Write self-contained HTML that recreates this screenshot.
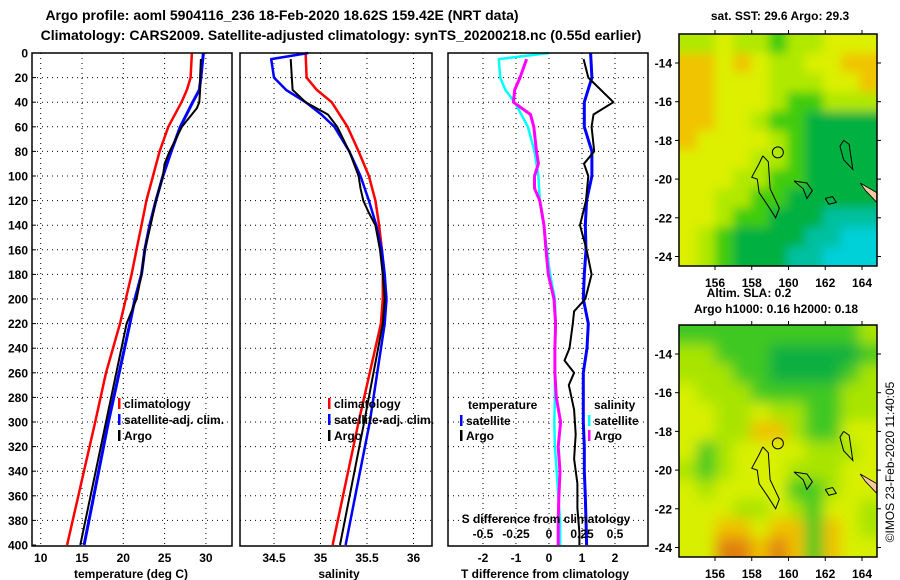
<!DOCTYPE html>
<html><head><meta charset="utf-8">
<style>
body{margin:0;background:#fff;}
svg{display:block;font-family:"Liberation Sans",sans-serif;font-weight:bold;}
</style></head>
<body>
<svg id="c" width="900" height="580" viewBox="0 0 900 580">
<defs>
<filter id="blur" x="-5%" y="-5%" width="110%" height="110%"><feGaussianBlur stdDeviation="5"/></filter>
<filter id="blur2" x="-5%" y="-5%" width="110%" height="110%"><feGaussianBlur stdDeviation="7"/></filter>
<clipPath id="clip1"><rect x="679" y="34" width="198" height="232"/></clipPath>
<clipPath id="clip2"><rect x="679" y="325" width="198" height="232"/></clipPath>
</defs>
<text x="282" y="20" font-size="14" text-anchor="middle">Argo profile: aoml 5904116_236 18-Feb-2020 18.62S 159.42E (NRT data)</text>
<text x="341" y="40" font-size="14" text-anchor="middle">Climatology: CARS2009. Satellite-adjusted climatology: synTS_20200218.nc (0.55d earlier)</text>
<text x="780" y="20" font-size="12" text-anchor="middle">sat. SST: 29.6 Argo: 29.3</text>
<text x="749" y="297" font-size="12" text-anchor="middle">Altim. SLA: 0.2</text>
<text x="776" y="313" font-size="12" text-anchor="middle">Argo h1000: 0.16 h2000: 0.18</text>
<text transform="translate(894,462) rotate(-90)" font-size="12" font-weight="normal" text-anchor="middle">©IMOS 23-Feb-2020 11:40:05</text>
<g id="layer"></g>
</svg>
<script>
// ---------- profile data ----------
const depthTicks=[0,20,40,60,80,100,120,140,160,180,200,220,240,260,280,300,320,340,360,380,400];
const tClimDepth=[0,20,30,40,60,80,100,120,140,160,180,200,220,260,300,400];
const tClim=[28.3,28.15,27.7,27.05,25.45,24.4,23.6,22.8,22.2,21.6,21.0,20.3,19.6,17.9,16.6,13.2];
const tSatDepth=[0,20,30,40,60,80,100,120,140,160,180,200,220,300,400];
const tSat=[29.7,29.4,29.2,28.4,26.9,25.8,24.8,23.95,23.2,22.6,22.2,21.4,20.8,18.2,15.25];
const tArgoDepth=[5,20,30,40,45,60,80,90,100,120,140,160,180,200,220,300,400];
const tArgo=[29.4,29.3,29.3,29.2,28.9,27.1,25.6,25.0,24.8,23.95,23.3,22.6,22.2,21.6,20.4,17.9,14.8];
const sClimDepth=[0,20,30,40,60,80,100,120,140,160,180,200,220,300,400];
const sClim=[34.84,34.85,34.96,35.12,35.29,35.41,35.52,35.59,35.63,35.66,35.67,35.67,35.65,35.41,35.13];
const sSatDepth=[0,5,20,30,40,50,60,80,100,120,140,160,180,200,220,300,400];
const sSat=[34.87,34.47,34.5,34.63,34.84,35.01,35.15,35.31,35.43,35.52,35.6,35.66,35.69,35.71,35.69,35.53,35.27];
const sArgoDepth=[5,30,40,50,60,80,100,110,120,130,140,160,180,200,220,300,400];
const sArgo=[34.68,34.7,34.84,35.08,35.18,35.31,35.41,35.43,35.46,35.52,35.59,35.64,35.67,35.69,35.67,35.47,35.21];
const dDepth=[0,20,40,60,80,100,120,140,160,180,200,220,240,260,280,300,320,340,360,380,400];
const dTSat=[1.26,1.3,1.07,1.07,1.3,1.3,1.14,1.1,1.12,1.07,1.04,1.19,1.15,1.04,1.04,1.04,1.07,1.07,1.1,1.12,1.14];
const dTArgoDepth=[5,20,40,50,60,80,90,100,120,140,160,180,200,210,220,240,250,260,270,290,310,330,350,370,390,400];
const dTArgo=[1.05,1.19,1.95,1.35,1.29,1.37,1.06,1.19,1.12,0.94,1.14,1.29,1.1,0.76,0.72,0.62,0.47,0.76,0.6,0.76,0.81,0.76,0.86,0.86,0.92,0.92];
const dSSatDepth=[0,5,20,30,40,60,80,100,120,140,160,180,200,220,240,260,280,300,320,340,360,380,400];
const dSSat=[0.0,-0.38,-0.37,-0.33,-0.26,-0.16,-0.11,-0.08,-0.07,-0.04,-0.017,0.008,0.045,0.05,0.045,0.045,0.045,0.04,0.045,0.058,0.07,0.083,0.085];
const dSArgoDepth=[5,20,30,40,50,60,80,90,100,110,120,140,160,180,200,220,240,260,280,300,320,340,360,380,400];
const dSArgo=[-0.17,-0.22,-0.26,-0.27,-0.14,-0.115,-0.095,-0.08,-0.11,-0.11,-0.07,-0.038,-0.023,-0.005,0.038,0.05,0.045,0.045,0.055,0.088,0.07,0.083,0.075,0.07,0.07];
const tTicks=[10,15,20,25,30];
const sTicks=[34.5,35,35.5,36];
const dTTicks=[-2,-1,0,1,2];
const dSTicks=[-0.5,-0.25,0,0.25,0.5];
const dSTickLabels=["-0.5","-0.25","0","0.25","0.5"];
// ---------- map data ----------
const sstGrid=[
[3,3,2,3,3,4,3,3,2,2,2],
[1,1,2,1,2,3,3,2,2,1,1],
[1,1,2,2,2,3,3,3,2,2,1],
[1,1,2,2,2,3,4,4,3,3,3],
[1,1,2,2,3,4,4,5,5,5,5],
[1,2,2,2,2,3,4,5,5,5,5],
[2,2,2,2,3,3,4,5,5,5,5],
[2,2,2,3,3,4,4,5,5,5,5],
[2,2,3,3,4,4,5,5,5,5,5],
[2,2,3,4,4,5,5,5,6,6,6],
[2,3,4,5,5,5,5,6,6,7,7],
[2,3,4,5,5,5,6,6,7,7,7]];
const slaGrid=[
[4,4,4,4,4,4,4,4,4,4,3],
[3,3,4,4,4,5,5,5,5,5,4],
[3,3,3,4,4,5,5,5,5,4,3],
[2,3,3,3,4,4,4,4,4,3,3],
[2,2,3,3,2,3,3,4,4,3,3],
[2,2,3,3,1,1,3,4,4,2,2],
[2,4,3,2,2,2,2,3,3,3,2],
[3,4,3,2,2,2,3,3,3,2,2],
[2,3,2,2,2,2,4,4,3,2,2],
[2,2,2,3,3,2,3,4,2,2,3],
[2,2,1,1,2,1,1,4,1,2,3],
[2,2,0,0,1,0,1,4,1,2,2]];
const sstColors=["#e89010","#f0c400","#dcf000","#b0e800","#40cc10","#00b040","#00c0a0","#00d0d8"];
const slaColors=["#e08010","#f0c000","#d8f000","#a8e400","#40c820","#10b040"];
const lonTicks=[156,158,160,162,164];
const latTicks=[-14,-16,-18,-20,-22,-24];
const isl1=[[158.6,-18.8],[158.9,-19.1],[159,-20.5],[159.5,-21.5],[159.3,-22],[158.9,-21.4],[158.4,-20.7],[158.3,-20],[158,-19.9],[158.4,-19.2],[158.6,-18.8]];
const isl2=[[160.3,-20.1],[161,-20.2],[161.3,-20.6],[161,-21],[160.8,-20.5],[160.3,-20.1]];
const isl3=[[163,-18],[163.3,-18.2],[163.5,-19.5],[163,-19],[162.8,-18.3],[163,-18]];
const isl4=[[162,-21],[162.4,-20.9],[162.6,-21.2],[162.2,-21.3],[162,-21]];
const land=[[163.9,-20.2],[164.8,-20.7],[164.8,-21.2],[164.2,-20.6]];
const floatPos=[159.42,-18.62];

const NS="http://www.w3.org/2000/svg";
const L=document.getElementById('layer');
function mk(tag,at,par){const e=document.createElementNS(NS,tag);for(const k in at)e.setAttribute(k,at[k]);(par||L).appendChild(e);return e;}
const yD=d=>53+d*1.23;
const xT=v=>40.7+(v-10)*8.26;
const xS=v=>274+(v-34.5)*93;
const xDT=v=>549+v*33;
const xDS=v=>549+v*132;
const panels=[[32,232,'temperature-panel'],[240,432,'salinity-panel'],[448,648,'difference-panel']];
panels.forEach(p=>{
  const g=mk('g',{});
  
  
  depthTicks.forEach(d=>{if(d>0&&d<400){const ln=mk('line',{x1:p[0],x2:p[1],y1:yD(d),y2:yD(d),stroke:'#000','stroke-dasharray':'1,4'},g);
    
    }});
});
function vgrid(xs,f){xs.forEach(v=>{const ln=mk('line',{x1:f(v),x2:f(v),y1:53,y2:546,stroke:'#000','stroke-dasharray':'1,4'});
  
  });}
vgrid(tTicks,xT);vgrid(sTicks,xS);vgrid(dTTicks,xDT);
function line(ds,vs,f,col,w,name){
  const pts=ds.map((d,i)=>f(vs[i]).toFixed(1)+','+yD(d).toFixed(1)).join(' ');
  const pl=mk('polyline',{points:pts,fill:'none',stroke:col,'stroke-width':w,'stroke-linejoin':'round'});
  
  
}
line(tClimDepth,tClim,xT,'#f00',2.5,'temp-climatology-line');
line(tSatDepth,tSat,xT,'#00f',3,'temp-satellite-line');
line(tArgoDepth,tArgo,xT,'#000',2,'temp-argo-line');
line(sClimDepth,sClim,xS,'#f00',2.5,'sal-climatology-line');
line(sSatDepth,sSat,xS,'#00f',2.5,'sal-satellite-line');
line(sArgoDepth,sArgo,xS,'#000',2,'sal-argo-line');
line(dSSatDepth,dSSat,xDS,'#0ff',2.5,'ds-satellite-line');
line(dSArgoDepth,dSArgo,xDS,'#f0f',3,'ds-argo-line');
line(dDepth,dTSat,xDT,'#00f',3,'dt-satellite-line');
line(dTArgoDepth,dTArgo,xDT,'#000',2,'dt-argo-line');
panels.forEach(p=>{const r=mk('rect',{x:p[0],y:53,width:p[1]-p[0],height:493,fill:'none',stroke:'#000','stroke-width':1.5});
  
  });
function txt(x,y,s,anchor,size,name,fill){const t=mk('text',{x:x,y:y,'font-size':size||12,'text-anchor':anchor||'middle',fill:fill||'#000'});t.textContent=s;
  
  return t;}
depthTicks.forEach(d=>{txt(28,yD(d)+4.5,String(d),'end',12,'depth-tick-label');
  mk('line',{x1:32,x2:36,y1:yD(d),y2:yD(d),stroke:'#000'});});
tTicks.forEach(v=>txt(xT(v),562,String(v),'middle',12,'temp-tick-label'));
sTicks.forEach(v=>txt(xS(v),562,String(v),'middle',12,'sal-tick-label'));
dTTicks.forEach(v=>txt(xDT(v),562,String(v),'middle',12,'dt-tick-label'));
dSTicks.forEach((v,i)=>txt(xDS(v),538,dSTickLabels[i],'middle',12,'ds-tick-label'));
txt(131,578,'temperature (deg C)','middle',12,'x-axis-title-temperature');
txt(339,578,'salinity','middle',12,'x-axis-title-salinity');
txt(545,578,'T difference from climatology','middle',12,'x-axis-title-t-diff');
txt(546,523,'S difference from climatology','middle',12,'s-diff-axis-title');
function leg(x,y,col,s,name){const r=mk('rect',{x:x,y:y-10,width:2.5,height:11,fill:col});
  
  
  txt(x+6,y,s,'start',12,name);}
leg(118,408,'#f00','climatology','legend-temp-climatology');
leg(118,424,'#00f','satellite-adj. clim.','legend-temp-satellite');
leg(118,440,'#000','Argo','legend-temp-argo');
leg(328,408,'#f00','climatology','legend-sal-climatology');
leg(328,424,'#00f','satellite-adj. clim.','legend-sal-satellite');
leg(328,440,'#000','Argo','legend-sal-argo');
txt(468,409,'temperature','start',12,'legend-temperature-heading');
txt(594,409,'salinity','start',12,'legend-salinity-heading');
leg(460,425,'#00f','satellite','legend-dt-satellite');
leg(460,440,'#000','Argo','legend-dt-argo');
leg(588,425,'#0ff','satellite','legend-ds-satellite');
leg(588,440,'#f0f','Argo','legend-ds-argo');
function drawMap(y0,grid,cols,name,clip,filt){
  const x0=679,x1=877,y1=y0+232;
  const lx=lon=>715+(lon-156)*18.375;
  const ly=lat=>y0+29+(-14-lat)*19.35;
  const g=mk('g',{});
  
  
  const cg=mk('g',{'clip-path':'url(#'+clip+')'},g);
  const bg=mk('g',{filter:'url(#'+filt+')'},cg);
  const cw=(x1-x0)/grid[0].length,ch=(y1-y0)/grid.length;
  grid.forEach((row,r)=>row.forEach((v,c)=>{
    // pad edges so blur does not fade to white
    const ex0=c===0?x0-15:x0+c*cw, ey0=r===0?y0-15:y0+r*ch;
    const ex1=c===row.length-1?x1+15:x0+(c+1)*cw+0.5, ey1=r===grid.length-1?y1+15:y0+(r+1)*ch+0.5;
    const cell=mk('rect',{x:ex0,y:ey0,width:ex1-ex0,height:ey1-ey0,fill:cols[v]},bg);
    
    }));
  const lp=mk('polygon',{points:land.map(p=>lx(p[0])+','+ly(p[1])).join(' '),fill:'#f8c8a0',stroke:'#000','stroke-width':0.8},g);
  
  
  [isl1,isl2,isl3,isl4].forEach(is=>{const p=mk('polyline',{points:is.map(p=>lx(p[0])+','+ly(p[1])).join(' '),fill:'none',stroke:'#000','stroke-width':1},g);
    
    });
  const c=mk('circle',{cx:lx(floatPos[0]),cy:ly(floatPos[1]),r:5.5,fill:'none',stroke:'#000','stroke-width':1},g);
  
  
  mk('rect',{x:x0,y:y0,width:x1-x0,height:y1-y0,fill:'none',stroke:'#000','stroke-width':1.5},g);
  lonTicks.forEach(v=>{mk('line',{x1:lx(v),x2:lx(v),y1:y0-4,y2:y0,stroke:'#000'},g);mk('line',{x1:lx(v),x2:lx(v),y1:y1,y2:y1+4,stroke:'#000'},g);
    txt(lx(v),y1+21,String(v),'middle',12,'lon-tick-label');});
  latTicks.forEach(v=>{mk('line',{x1:x0-4,x2:x0,y1:ly(v),y2:ly(v),stroke:'#000'},g);mk('line',{x1:x1,x2:x1+4,y1:ly(v),y2:ly(v),stroke:'#000'},g);
    txt(672,ly(v)+4.5,String(v),'end',12,'lat-tick-label');});
}
drawMap(34,sstGrid,sstColors,'sst-map','clip1','blur');
drawMap(325,slaGrid,slaColors,'sla-map','clip2','blur2');
</script>
</body></html>
